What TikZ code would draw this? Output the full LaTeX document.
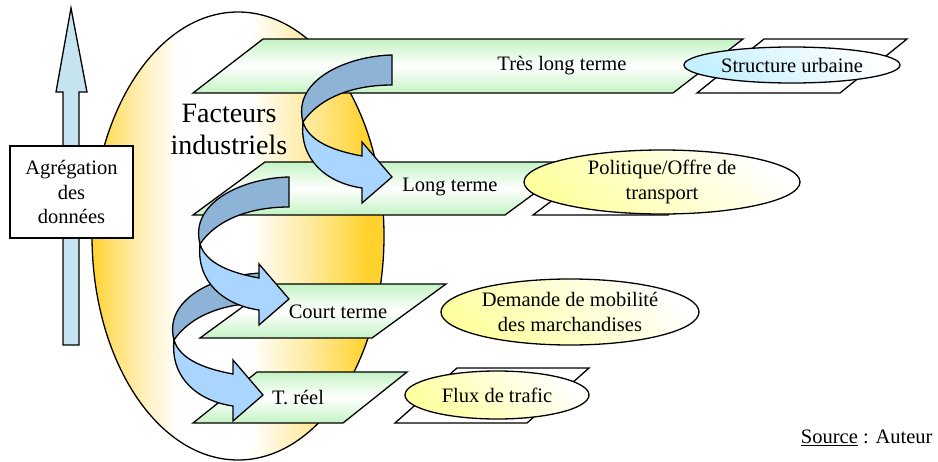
\documentclass[tikz,border=0pt]{standalone}
\usepackage{fontspec}
\setmainfont{Liberation Serif}
\usetikzlibrary{shapes.geometric}
\definecolor{vertclair}{RGB}{196,243,196}
\definecolor{bleufonce}{RGB}{141,179,214}
\definecolor{bleuclair}{RGB}{170,213,255}
\definecolor{bleufleche}{RGB}{198,228,240}
\definecolor{orfonce}{RGB}{255,210,45}
\definecolor{jaunepale}{RGB}{255,255,160}
\definecolor{cyanpale}{RGB}{196,240,255}
\pgfdeclarehorizontalshading{facteurs}{100bp}{color(0bp)=(orfonce); color(25bp)=(orfonce); color(29bp)=(orfonce!65!white); color(35bp)=(orfonce!25!white); color(40bp)=(white); color(52bp)=(white); color(62bp)=(orfonce!45!white); color(72bp)=(orfonce); color(100bp)=(orfonce)}
\tikzset{
	trait/.style={draw, line width=1.3pt},
	niveau/.style={trait, top color=vertclair, bottom color=vertclair, middle color=white},
	ombre/.style={trait, fill=white},
	bulle/.style={ellipse, trait, inner sep=0pt, align=center},
	jaune/.style={top color=white, bottom color=jaunepale, shading angle=-40},
	dos/.style={trait, fill=bleufonce},
	face/.style={trait, fill=bleuclair}
}
\newcommand{\plaque}[6] % style, x bottom left, x bottom right, y top, y bottom, skew
{
	\draw[#1] (#2,#5) -- (#3,#5) -- (#3+#6,#4) -- (#2+#6,#4) -- cycle;
}
\newcommand{\spirale}[2] % x, y of the upper corner of the flat end
{
	\begin{scope}[shift={(#1,#2)}]
	% back of the ribbon
	\draw[dos] (0,0) .. controls (-45,1) and (-100,25) .. (-89,67)
		.. controls (-72,42) and (-38,30) .. (0,30) -- cycle;
	% front of the ribbon with the head
	\draw[face] (-89,67) .. controls (-93,105) and (-65,128) .. (-30,133)
		-- (-30,148) -- (0,122) -- (-30,87) -- (-30,101)
		.. controls (-57,96) and (-83,87) .. (-89,67) -- cycle;
	\end{scope}
}

\begin{document}
\begin{tikzpicture}[x=1pt, y=-1pt, font=\fontsize{20.5}{24.5}\selectfont]
	\useasboundingbox (0,0) rectangle (938,461);
	% big ellipse
	\draw[trait, shading=facteurs] (238,236) ellipse (146 and 224);
	% vertical arrow and its box
	\draw[trait, fill=bleufleche] (63,345) -- (63,92) -- (56,92) -- (71,8) -- (87,92) -- (79,92) -- (79,345) -- cycle;
	\node[trait, fill=white, minimum width=123, minimum height=92, align=center] (agreg) at (71.5,192) {Agrégation\\des\\données};
	\node[font=\fontsize{28}{32}\selectfont, align=center] (facteurs) at (229,129) {Facteurs\\industriels};
	
	% levels
	\plaque{ombre}{697}{840}{39}{93}{67}
	\plaque{niveau}{193}{673}{39}{93}{70}
	\plaque{ombre}{533}{668}{162}{215}{70}
	\plaque{niveau}{193}{505}{162}{215}{72}
	\plaque{niveau}{200}{372}{284}{338}{74}
	\plaque{ombre}{395}{527}{368}{423}{62}
	\plaque{niveau}{193}{343}{372}{423}{64}
	
	\node (tlt) at (562,66) {Très long terme};
	\node (lt) at (450,187) {Long terme};
	\node (ct) at (338,312) {Court terme};
	\node (tr) at (298,398) {T. réel};
	
	% ellipses
	\node[bulle, top color=white, bottom color=cyanpale, shading angle=-40, minimum width=216, minimum height=36] (structure) at (792,65) {Structure urbaine};
	\node[bulle, jaune, minimum width=276, minimum height=64] (politique) at (662,182) {Politique/Offre de\\transport};
	\node[bulle, jaune, minimum width=258, minimum height=66] (demande) at (570,312) {Demande de mobilité\\des marchandises};
	\node[bulle, jaune, minimum width=184, minimum height=48] (flux) at (497,395) {Flux de trafic};
	
	% curved arrows
	\spirale{263}{273}
	\spirale{289}{177}
	\spirale{392}{55}
	
	\node[anchor=east] (source) at (936,438) {\underline{Source} : Auteur};
\end{tikzpicture}
\end{document}
